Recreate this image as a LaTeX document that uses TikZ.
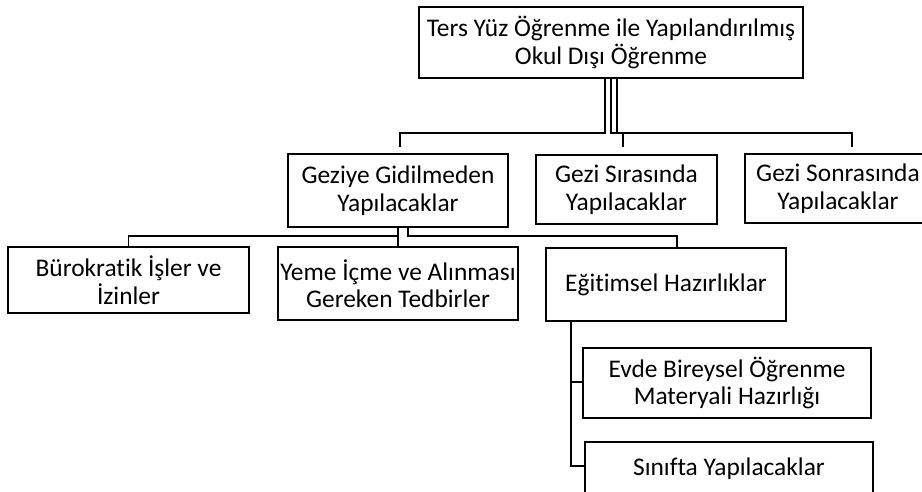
\documentclass[tikz,border=0pt]{standalone}
\usepackage{fontspec}
\setmainfont{Carlito}[Ligatures=NoCommon]
\begin{document}
\begin{tikzpicture}[x=1pt,y=-1pt,
  box/.style={draw=black, line width=1.8pt, inner sep=0pt, align=center, font=\fontsize{25.4}{27.5}\selectfont},
  conn/.style={draw=black, line width=1.3pt}]
\useasboundingbox (0,0) rectangle (922,492);
\clip (0,0) rectangle (922,492);
% level 1
\node[box, minimum width=384pt, minimum height=71pt] (top) at (611,42.5) {Ters Yüz Öğrenme ile Yapılandırılmış\\Okul Dışı Öğrenme};
% level 2
\node[box, minimum width=220pt, minimum height=73pt] (A) at (398,190.5) {Geziye Gidilmeden\\Yapılacaklar};
\node[box, minimum width=181pt, minimum height=69pt] (B) at (626.5,189.5) {Gezi Sırasında\\Yapılacaklar};
\node[box, minimum width=186pt, minimum height=69pt] (C) at (838,188.5) {Gezi Sonrasında\\Yapılacaklar};
% level 3
\node[box, minimum width=241pt, minimum height=66pt] (D) at (128.5,280) {Bürokratik İşler ve\\İzinler};
\node[box, minimum width=240pt, minimum height=73pt] (E) at (398,283.5) {Yeme İçme ve Alınması\\Gereken Tedbirler};
\node[box, minimum width=240pt, minimum height=73pt] (F) at (666,284.5) {Eğitimsel Hazırlıklar};
% level 4
\node[box, minimum width=288pt, minimum height=70pt] (G) at (727,383) {Evde Bireysel Öğrenme\\Materyali Hazırlığı};
\node[box, minimum width=288pt, minimum height=54pt] (H) at (729,469) {Sınıfta Yapılacaklar};
% drop ends above level 2
\coordinate (dA) at (400,147);
\coordinate (dB) at (623,147);
\coordinate (dC) at (852,147);
\draw[conn] ([xshift=-6pt]top.south) -- ++(0,54) -| (dA);
\draw[conn] (top.south) -- ++(0,54) -| (dB);
\draw[conn] ([xshift=6pt]top.south) -- ++(0,54) -| (dC);
\draw[conn] (A.south) -- ++(0,8) -| (D.north);
\draw[conn] (A.south) -- (E.north);
\draw[conn] ([xshift=10pt]A.south) -- ++(0,8) -| ([xshift=11pt]F.north);
\draw[conn] ([xshift=-95pt]F.south) |- ([yshift=1pt]G.west);
\draw[conn] ([xshift=-95pt]F.south) |- ([yshift=3pt]H.west);
\end{tikzpicture}
\end{document}
